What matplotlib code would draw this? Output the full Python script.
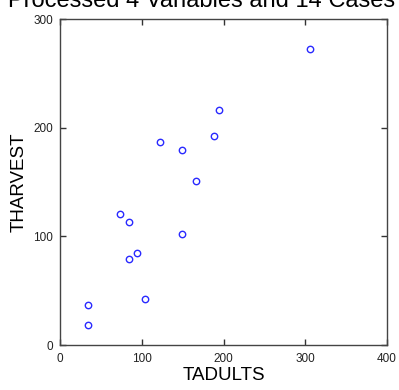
import matplotlib.pyplot as plt

# values
tadults = [306, 195, 188, 122, 149, 166, 74, 84, 149, 94, 84, 104, 34, 34]
tharvest = [272, 216, 192, 187, 179, 151, 121, 113, 102, 85, 79, 42, 37, 18]

x_ticks = [0, 100, 200, 300, 400]
y_ticks = [0, 100, 200, 300]

plt.rcParams['font.family'] = ['Liberation Sans', 'DejaVu Sans']

fig = plt.figure(figsize=(3.99, 3.90), dpi=100)
ax = fig.add_axes([60 / 399, 45 / 390, 327 / 399, 326 / 390])

ax.plot(tadults, tharvest, linestyle='none', marker='o', markersize=4.6,
        markerfacecolor='none', markeredgecolor='#2a2aff', markeredgewidth=1.0)

ax.set_xlim(0, 400)
ax.set_ylim(0, 300)
ax.set_xticks(x_ticks)
ax.set_yticks(y_ticks)
ax.tick_params(axis='both', direction='in', length=4.3, width=1, color='#333333',
               labelsize=8.5, labelcolor='#222222', top=True, right=True)
ax.tick_params(axis='x', pad=6)
ax.tick_params(axis='y', pad=5)
for s in ax.spines.values():
    s.set_color('#444444')
    s.set_linewidth(1)

ax.set_xlabel('TADULTS', fontsize=13.5, labelpad=1)
ax.set_ylabel('THARVEST', fontsize=13.5, labelpad=4)

fig.text(202 / 399, 1 - 7 / 390, 'Processed 4 Variables and 14 Cases',
         ha='center', va='baseline', fontsize=17)

fig.savefig('out.png', dpi=100)
